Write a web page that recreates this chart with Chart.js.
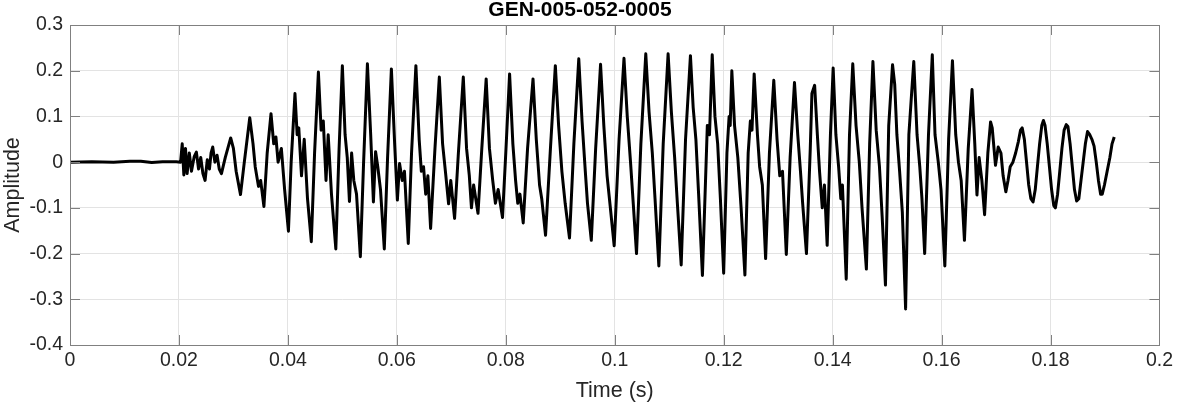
<!DOCTYPE html>
<html>
<head>
<meta charset="utf-8">
<script src="https://cdn.jsdelivr.net/npm/chart.js@4"></script>
<style>
  html, body { margin: 0; padding: 0; background: #fff; }
  #wrap { width: 1177px; height: 404px; }
</style>
</head>
<body>
<div id="wrap"><canvas id="wave"></canvas></div>
<script>
// Waveform samples (time in s, amplitude)
const times = [
  0, 0.004, 0.008, 0.011, 0.013, 0.015, 0.017, 0.0195, 0.0203,
  0.0206, 0.0209, 0.0212, 0.0215, 0.0219, 0.0223, 0.0228, 0.0232, 0.0236, 0.0240,
  0.0244, 0.0248, 0.0252, 0.0256, 0.0259, 0.0262, 0.0266, 0.0270, 0.0274, 0.0278,
  0.0285, 0.0295, 0.0300, 0.0305, 0.0313, 0.0320, 0.0330, 0.0336, 0.0340, 0.0346,
  0.0350, 0.0356, 0.0362, 0.0369, 0.0374, 0.0378, 0.0382, 0.0388, 0.0394, 0.0401,
  0.0406, 0.0413, 0.0417, 0.0420, 0.0425, 0.0430, 0.0436, 0.0443, 0.0449, 0.0456,
  0.0461, 0.0465, 0.0470, 0.0474, 0.0480, 0.0488, 0.0494, 0.0500, 0.0505, 0.0509,
  0.0513, 0.0517, 0.0521, 0.0526, 0.0533, 0.0539, 0.0546, 0.0552, 0.0557, 0.0561,
  0.0565, 0.0570, 0.0577, 0.0583, 0.0590, 0.0596, 0.0601, 0.0605, 0.0610, 0.0614,
  0.0621, 0.0627, 0.0635, 0.0641, 0.0645, 0.0649, 0.0653, 0.0657, 0.0662, 0.0670,
  0.0678, 0.0684, 0.0690, 0.0695, 0.0699, 0.0706, 0.0713, 0.0722, 0.0728, 0.0733,
  0.0737, 0.0741, 0.0749, 0.0756, 0.0764, 0.0770, 0.0776, 0.0781, 0.0786, 0.0794,
  0.0800, 0.0807, 0.0813, 0.0818, 0.0822, 0.0826, 0.0832, 0.0840, 0.0850, 0.0856,
  0.0862, 0.0866, 0.0873, 0.0882, 0.0891, 0.0897, 0.0903, 0.0909, 0.0917, 0.0925,
  0.0934, 0.0940, 0.0946, 0.0950, 0.0957, 0.0965, 0.0974, 0.0980, 0.0986, 0.0992,
  0.0999, 0.1008, 0.1017, 0.1023, 0.1029, 0.1034, 0.1040, 0.1048, 0.1057, 0.1063,
  0.1069, 0.1074, 0.1081, 0.1089, 0.1098, 0.1104, 0.1110, 0.1115, 0.1122, 0.1130,
  0.1139, 0.1144, 0.1149, 0.1154, 0.1161, 0.1170, 0.1174, 0.1179, 0.1184, 0.1189,
  0.1194, 0.1200, 0.1206, 0.1210, 0.1212, 0.1215, 0.1220, 0.1226, 0.1232, 0.1239,
  0.1245, 0.1249, 0.1252, 0.1256, 0.1262, 0.1266, 0.1271, 0.1277, 0.1284, 0.1292,
  0.1298, 0.1303, 0.1308, 0.1315, 0.1322, 0.1330, 0.1336, 0.1341, 0.1345, 0.1352,
  0.1359, 0.1362, 0.1367, 0.1372, 0.1376, 0.1381, 0.1385, 0.1390, 0.1396, 0.1401,
  0.1406, 0.1411, 0.1415, 0.1418, 0.1425, 0.1431, 0.1437, 0.1443, 0.1449, 0.1454,
  0.1462, 0.1468, 0.1474, 0.1480, 0.1486, 0.1491, 0.1497, 0.1503, 0.1510, 0.1514,
  0.1518, 0.1523, 0.1528, 0.1534, 0.1540, 0.1545, 0.1549, 0.1555, 0.1560, 0.1564,
  0.1569, 0.1576, 0.1583, 0.1588, 0.1594, 0.1599, 0.1606, 0.1613, 0.1620, 0.1626,
  0.1631, 0.1636, 0.1642, 0.1649, 0.1656, 0.1661, 0.1665, 0.1669, 0.1674, 0.1679,
  0.1685, 0.1690,
  0.1693, 0.1699, 0.1704, 0.1709, 0.1713, 0.1718, 0.1722, 0.1726, 0.1731, 0.1736,
  0.1741, 0.1745, 0.1748, 0.1752, 0.1756, 0.1760, 0.1764, 0.1768, 0.1772, 0.1776,
  0.1780, 0.1784, 0.1787, 0.1790, 0.1794, 0.1798, 0.1802, 0.1806, 0.1809, 0.1813,
  0.1817, 0.1821, 0.1825, 0.1829, 0.1832, 0.1836, 0.1840, 0.1844, 0.1848, 0.1852,
  0.1856, 0.1860, 0.1864, 0.1868, 0.1872, 0.1876, 0.1880, 0.1884, 0.1888, 0.1892,
  0.1895, 0.1899, 0.1904, 0.1909, 0.1913, 0.1917
];
const amplitude = [
  0, 0.001, 0.000, 0.002, 0.002, -0.001, 0.001, 0.001, 0.0,
  0.040, -0.028, 0.030, -0.025, 0.020, -0.020, 0.012, 0.022, -0.015, 0.010,
  -0.025, -0.040, 0.005, -0.015, 0.020, 0.033, 0.000, 0.015, -0.015, -0.025,
  0.010, 0.053, 0.030, -0.020, -0.071, 0.000, 0.097, 0.040, -0.010, -0.053,
  -0.040, -0.097, 0.020, 0.106, 0.040, 0.055, 0.000, 0.030, -0.060, -0.151,
  0.000, 0.150, 0.060, 0.075, -0.030, 0.050, -0.080, -0.174, 0.020, 0.197,
  0.070, 0.090, -0.040, 0.060, -0.070, -0.190, 0.030, 0.211, 0.060, 0.010,
  -0.086, 0.020, -0.040, -0.070, -0.207, 0.000, 0.215, 0.060, -0.087, 0.023,
  -0.010, -0.060, -0.190, 0.010, 0.204, 0.040, -0.083, -0.003, -0.040, -0.020,
  -0.178, 0.020, 0.211, 0.050, -0.020, -0.010, -0.070, -0.030, -0.145, 0.030,
  0.186, 0.040, -0.030, -0.091, -0.040, -0.123, 0.020, 0.186, 0.030, -0.029,
  -0.100, -0.050, -0.112, 0.030, 0.182, 0.030, -0.040, -0.090, -0.060, -0.121,
  0.020, 0.193, 0.040, -0.040, -0.090, -0.070, -0.133, 0.030, 0.182, 0.050,
  -0.050, -0.080, -0.160, 0.030, 0.211, 0.080, -0.020, -0.090, -0.166, 0.040,
  0.226, 0.090, -0.020, -0.090, -0.171, 0.030, 0.214, 0.080, -0.030, -0.100,
  -0.183, 0.050, 0.227, 0.100, 0.000, -0.090, -0.200, 0.040, 0.237, 0.110,
  0.020, -0.080, -0.227, 0.040, 0.237, 0.110, 0.010, -0.090, -0.225, 0.050,
  0.233, 0.120, 0.050, -0.070, -0.248, 0.080, 0.060, 0.235, 0.100, 0.040,
  -0.080, -0.243, 0.020, 0.100, 0.080, 0.200, 0.080, 0.010, -0.100, -0.247,
  0.020, 0.090, 0.070, 0.193, 0.060, -0.010, -0.050, -0.211, 0.020, 0.179,
  0.050, -0.030, -0.020, -0.202, 0.010, 0.174, 0.060, -0.020, -0.090, -0.200,
  0.030, 0.150, 0.168, 0.060, -0.020, -0.100, -0.050, -0.182, 0.060, 0.206,
  0.060, -0.010, -0.080, -0.050, -0.256, 0.060, 0.215, 0.080, 0.000, -0.100,
  -0.234, 0.040, 0.220, 0.070, -0.010, -0.120, -0.269, 0.080, 0.213, 0.170,
  0.060, -0.020, -0.110, -0.321, 0.060, 0.150, 0.220, 0.060, -0.010, -0.080,
  -0.200, 0.060, 0.235, 0.060, 0.000, -0.060, -0.227, 0.050, 0.222, 0.060,
  0.000, -0.040, -0.171, 0.030, 0.159, 0.040, -0.072, 0.010, -0.040, -0.115,
  0.020, 0.088,
  0.075, -0.007, 0.033, 0.020, -0.030, -0.065, -0.040, -0.010, 0.000, 0.020,
  0.045, 0.070, 0.075, 0.050, 0.000, -0.050, -0.080, -0.087, -0.060, -0.010,
  0.040, 0.080, 0.091, 0.080, 0.040, -0.010, -0.060, -0.095, -0.100, -0.070,
  -0.020, 0.030, 0.070, 0.082, 0.078, 0.040, -0.010, -0.060, -0.085, -0.080,
  -0.040, 0.000, 0.040, 0.067, 0.060, 0.050, 0.035, 0.000, -0.040, -0.070,
  -0.070, -0.050, -0.020, 0.010, 0.040, 0.055
];
const xTicks = [0, 0.02, 0.04, 0.06, 0.08, 0.1, 0.12, 0.14, 0.16, 0.18, 0.2];
const yTicks = [-0.4, -0.3, -0.2, -0.1, 0, 0.1, 0.2, 0.3];

const FONT = '"Liberation Sans", Arial, Helvetica, sans-serif';
const textColor = "#262626";
const gridColor = "#e3e3e3";
const boxColor = "#808080";

// box round the plot area, with inward tick marks on all four sides
const boxPlugin = {
  id: "matlabBox",
  afterDraw(chart) {
    const { ctx, chartArea: a, scales } = chart;
    const len = 10;
    ctx.save();
    ctx.strokeStyle = boxColor;
    ctx.lineWidth = 1;
    ctx.beginPath();
    xTicks.forEach((v) => {
      const px = Math.round(scales.x.getPixelForValue(v)) + 0.5;
      ctx.moveTo(px, a.bottom);
      ctx.lineTo(px, a.bottom - len);
      ctx.moveTo(px, a.top);
      ctx.lineTo(px, a.top + len);
    });
    yTicks.forEach((v) => {
      const py = Math.round(scales.y.getPixelForValue(v)) + 0.5;
      ctx.moveTo(a.left, py);
      ctx.lineTo(a.left + len, py);
      ctx.moveTo(a.right, py);
      ctx.lineTo(a.right - len, py);
    });
    ctx.stroke();
    ctx.strokeRect(
      Math.round(a.left) + 0.5,
      Math.round(a.top) + 0.5,
      Math.round(a.right - a.left),
      Math.round(a.bottom - a.top)
    );
    ctx.restore();
  },
};

const fmt = (v) => String(+Number(v).toFixed(2));

new Chart(document.getElementById("wave"), {
  type: "line",
  data: {
    datasets: [
      {
        data: times.map((t, i) => ({ x: t, y: amplitude[i] })),
        borderColor: "#000",
        borderWidth: 3,
        pointRadius: 0,
        tension: 0,
        borderJoinStyle: "round",
        fill: false,
      },
    ],
  },
  options: {
    responsive: true,
    maintainAspectRatio: false,
    animation: false,
    layout: { padding: { left: 0, right: 17, top: 0, bottom: 0 } },
    plugins: {
      legend: { display: false },
      tooltip: { enabled: false },
      title: {
        display: true,
        text: "GEN-005-052-0005",
        color: "#000",
        font: { family: FONT, size: 21, weight: "bold", lineHeight: 1 },
        padding: { top: 0, bottom: 4 },
      },
    },
    scales: {
      x: {
        type: "linear",
        min: 0,
        max: 0.2,
        afterBuildTicks: (s) => {
          s.ticks = xTicks.map((v) => ({ value: v }));
        },
        afterFit: (s) => {
          s.height = 59;
        },
        ticks: {
          color: textColor,
          font: { family: FONT, size: 19.5 },
          padding: 4,
          maxRotation: 0,
          autoSkip: false,
          callback: fmt,
        },
        grid: { color: gridColor, drawTicks: false },
        border: { display: false },
        title: {
          display: true,
          text: "Time (s)",
          color: textColor,
          font: { family: FONT, size: 21.5 },
          padding: { top: 0, bottom: 0 },
        },
      },
      y: {
        min: -0.4,
        max: 0.3,
        afterBuildTicks: (s) => {
          s.ticks = yTicks.map((v) => ({ value: v }));
        },
        afterFit: (s) => {
          s.width = 70;
        },
        ticks: {
          color: textColor,
          font: { family: FONT, size: 19.5 },
          padding: 7,
          callback: fmt,
        },
        grid: { color: gridColor, drawTicks: false },
        border: { display: false },
        title: {
          display: true,
          text: "Amplitude",
          color: textColor,
          font: { family: FONT, size: 21.5 },
          padding: { top: 0, bottom: 0 },
        },
      },
    },
  },
  plugins: [boxPlugin],
});
</script>
</body>
</html>
